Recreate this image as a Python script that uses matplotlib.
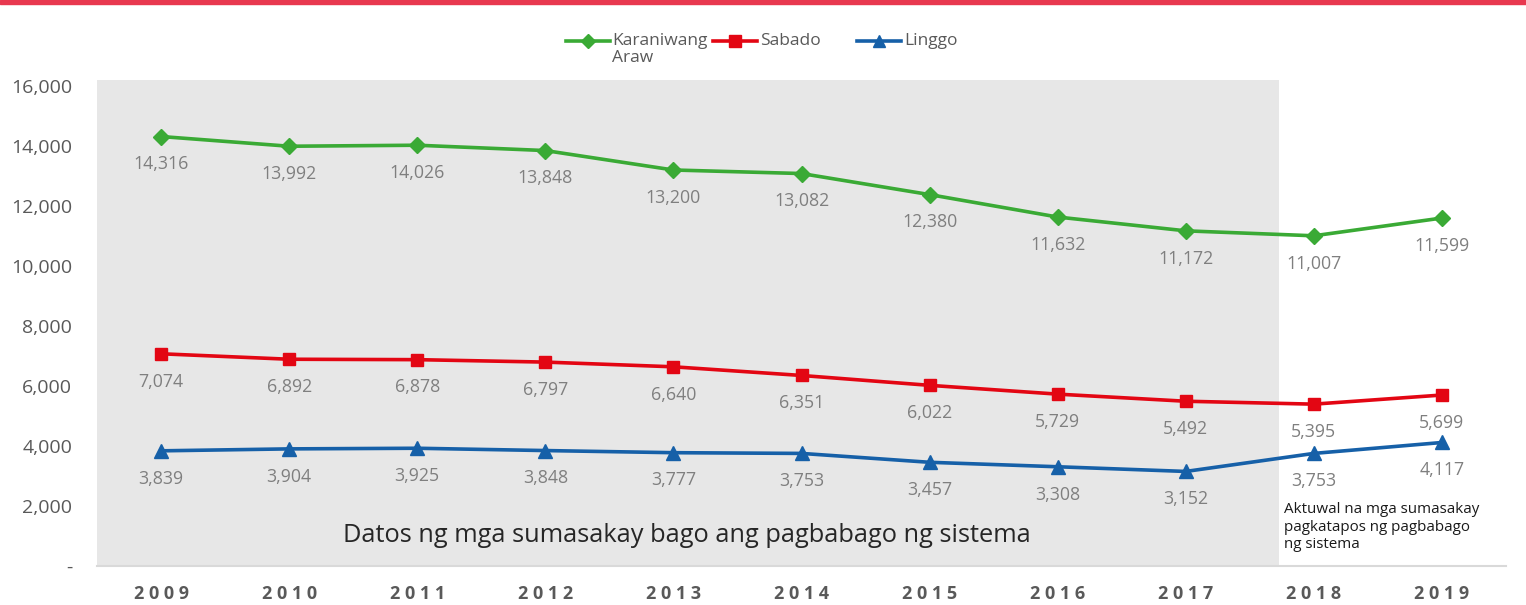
import matplotlib
matplotlib.use("Agg")
import matplotlib.pyplot as plt
from matplotlib.patches import Rectangle
from matplotlib.lines import Line2D
from matplotlib.ticker import FuncFormatter

plt.rcParams['font.family'] = ['Open Sans', 'DejaVu Sans']

years = ["2009", "2010", "2011", "2012", "2013", "2014", "2015", "2016", "2017", "2018", "2019"]
karaniwang = [14316, 13992, 14026, 13848, 13200, 13082, 12380, 11632, 11172, 11007, 11599]
sabado = [7074, 6892, 6878, 6797, 6640, 6351, 6022, 5729, 5492, 5395, 5699]
linggo = [3839, 3904, 3925, 3848, 3777, 3753, 3457, 3308, 3152, 3753, 4117]
series_names = ["Karaniwang\nAraw", "Sabado", "Linggo"]
yticks = [0, 2000, 4000, 6000, 8000, 10000, 12000, 14000, 16000]

W, H = 1526, 605
fig = plt.figure(figsize=(W / 100, H / 100), dpi=100)
ax = fig.add_axes([97 / W, 1 - 566 / H, (1506 - 97) / W, (566 - 86) / H])


def fx(px):
    return px / W


def fy(py):
    return 1 - py / H


# top red band
fig.add_artist(Rectangle((0, 1 - 4 / H), 1, 4 / H, transform=fig.transFigure,
                         color="#e8384f", zorder=10))

# gray shaded region (before system change)
ax.add_patch(Rectangle((0, 0), (1279 - 97) / (1506 - 97), (566 - 80) / (566 - 86),
                       transform=ax.transAxes, facecolor="#e7e7e7", edgecolor="none",
                       clip_on=False, zorder=0))

x = list(range(len(years)))
styles = [
    (karaniwang, "#3aaa35", "D", 8),
    (sabado, "#e30613", "s", 9),
    (linggo, "#1660a8", "^", 10),
]
for (vals, col, mk, ms), name in zip(styles, series_names):
    ax.plot(x, vals, color=col, lw=2.6, marker=mk, markersize=ms, label=name, zorder=3)
    for xi, v in zip(x, vals):
        ax.annotate(f"{v:,}", (xi, v), xytext=(0, -20), textcoords="offset points",
                    ha="center", va="center", fontsize=12.8, color="#7f7f7f", zorder=4)

ax.set_xlim(-0.5, len(years) - 0.5)
ax.set_ylim(0, 16000)
ax.set_yticks(yticks)
ax.yaxis.set_major_formatter(FuncFormatter(lambda v, p: "-" if v == 0 else f"{int(v):,}"))
ax.set_xticks(x)
ax.set_xticklabels([" ".join(y) for y in years], fontsize=13, fontweight="bold", color="#595959")
ax.tick_params(axis="y", labelsize=14, labelcolor="#595959", length=0, pad=18)
ax.tick_params(axis="x", length=0, pad=14)
for s in ["top", "right", "left"]:
    ax.spines[s].set_visible(False)
ax.spines["bottom"].set_color("#d9d9d9")
ax.spines["bottom"].set_linewidth(1.5)
ax.set_facecolor("none")

ax.text((687 - 97) / (1506 - 97), (566 - 535) / (566 - 86),
        "Datos ng mga sumasakay bago ang pagbabago ng sistema",
        transform=ax.transAxes, ha="center", va="center", fontsize=18.3, color="#262626")
ax.text((1284 - 97) / (1506 - 97), (566 - 502) / (566 - 86),
        "Aktuwal na mga sumasakay\npagkatapos ng pagbabago\nng sistema",
        transform=ax.transAxes, ha="left", va="top", fontsize=10.9, color="#1a1a1a",
        linespacing=1.25)

# manual legend
leg_pos = [(566, 612), (713, 760), (857, 904)]
for (vals, col, mk, ms), name, (x0, tx) in zip(styles, series_names, leg_pos):
    fig.add_artist(Line2D([fx(x0), fx(x0 + 44)], [fy(41), fy(41)], color=col, lw=2.6,
                          transform=fig.transFigure))
    fig.add_artist(Line2D([fx(x0 + 22)], [fy(41)], color=col, marker=mk,
                          markersize=ms - 1, transform=fig.transFigure))
    fig.text(fx(tx), fy(33), name, ha="left", va="top", fontsize=12.5,
             color="#595959", linespacing=1.12)

fig.savefig("out.png", dpi=100)
